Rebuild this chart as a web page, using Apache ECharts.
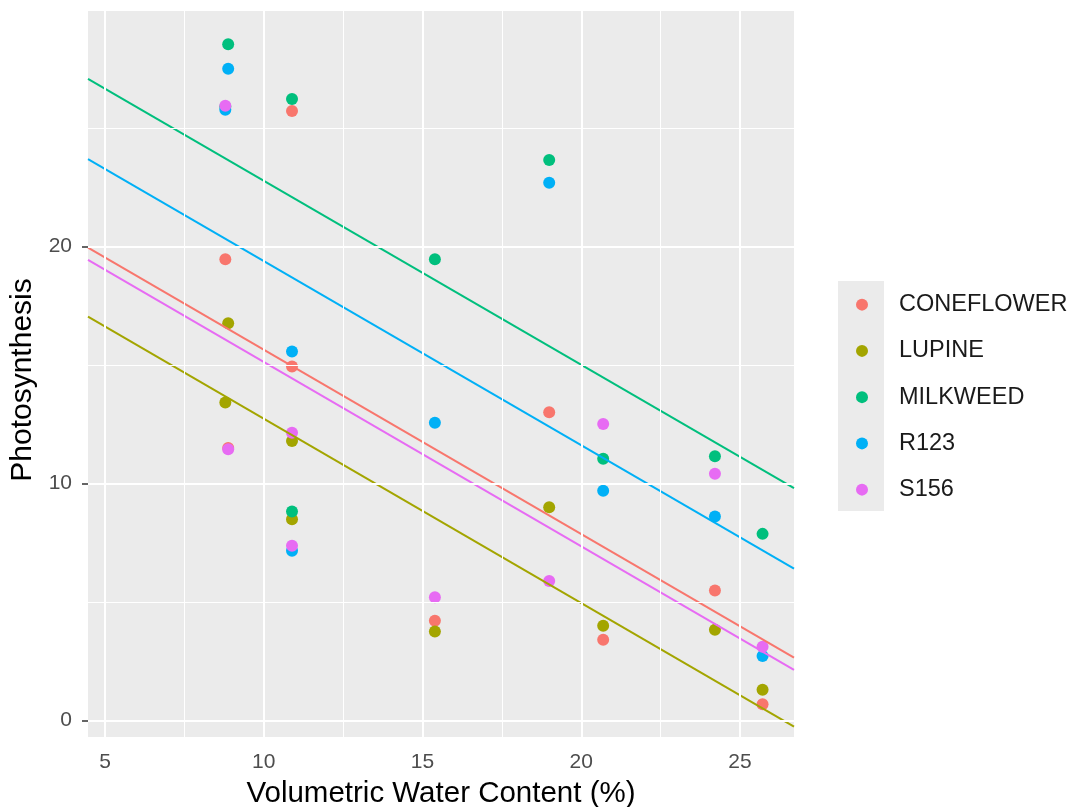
<!DOCTYPE html>
<html>
<head>
<meta charset="utf-8">
<script src="https://cdn.jsdelivr.net/npm/echarts@6/dist/echarts.min.js"></script>
<style>
  html, body { margin: 0; padding: 0; background: #ffffff; }
  #chart { width: 1070px; height: 807px; }
</style>
</head>
<body>
<div id="chart"></div>
<script>
// ---------- data ----------
const species = ['CONEFLOWER', 'LUPINE', 'MILKWEED', 'R123', 'S156'];
const colors = ['#F8766D', '#A3A500', '#00BF7D', '#00B0F6', '#E76BF3'];

// water content (%) of each sampling site
const waterContent = [8.79, 8.88, 10.89, 10.89, 15.39, 18.99, 20.69, 24.21, 25.71];

// photosynthesis per species, in site order
const coneflower = [19.47, 11.50, 25.72, 14.94, 4.21, 13.01, 3.41, 5.49, 0.69];
const lupine     = [13.42, 16.77, 11.80, 8.50, 3.76, 9.00, 4.00, 3.83, 1.30];
const milkweed   = [25.90, 28.54, 26.23, 8.82, 19.47, 23.65, 11.05, 11.15, 7.88];
const r123       = [25.77, 27.50, 15.57, 7.17, 12.57, 22.69, 9.70, 8.61, 2.73];
const s156       = [25.94, 11.45, 12.15, 7.38, 5.21, 5.89, 12.52, 10.42, 3.12];
const photosynthesis = [coneflower, lupine, milkweed, r123, s156];

// fitted (parallel) lines: value at left and right edge of the panel
const xRange = [4.465, 26.70];
const lineStart = [19.96, 17.05, 27.08, 23.69, 19.44];
const lineEnd   = [2.66, -0.25, 9.81, 6.41, 2.14];

const yRange = [-0.69, 29.94];
const xTicks = [5, 10, 15, 20, 25];
const xMinor = [7.5, 12.5, 17.5, 22.5];
const yTicks = [0, 10, 20];
const yMinor = [5, 15, 25];

// ---------- chart ----------
const FONT = '"Liberation Sans", Arial, Helvetica, sans-serif';
const chart = echarts.init(document.getElementById('chart'), null, { renderer: 'canvas' });

const gridLines = [];
xMinor.forEach(v => gridLines.push({ xAxis: v, lineStyle: { color: '#ffffff', width: 1, type: 'solid' } }));
yMinor.forEach(v => gridLines.push({ yAxis: v, lineStyle: { color: '#ffffff', width: 1, type: 'solid' } }));
xTicks.forEach(v => gridLines.push({ xAxis: v, lineStyle: { color: '#ffffff', width: 2, type: 'solid' } }));
yTicks.forEach(v => gridLines.push({ yAxis: v, lineStyle: { color: '#ffffff', width: 2, type: 'solid' } }));

const series = [{
  name: '_grid',
  type: 'scatter',
  data: [],
  z: 1,
  silent: true,
  markLine: {
    silent: true,
    animation: false,
    symbol: ['none', 'none'],
    label: { show: false },
    emphasis: { disabled: true },
    data: gridLines
  }
}];

species.forEach((name, i) => {
  series.push({
    name: name,
    type: 'scatter',
    symbol: 'circle',
    symbolSize: 12,
    z: 3,
    itemStyle: { color: colors[i], opacity: 1 },
    data: waterContent.map((x, k) => [x, photosynthesis[i][k]])
  });
});
species.forEach((name, i) => {
  series.push({
    name: name,
    type: 'line',
    showSymbol: false,
    symbol: 'none',
    z: 4,
    clip: true,
    lineStyle: { color: colors[i], width: 2 },
    itemStyle: { color: colors[i] },
    data: [[xRange[0], lineStart[i]], [xRange[1], lineEnd[i]]]
  });
});

const option = {
  animation: false,
  backgroundColor: '#ffffff',
  textStyle: { fontFamily: FONT },
  grid: {
    left: 88, top: 11, width: 706, height: 726,
    show: true, backgroundColor: '#EBEBEB', borderWidth: 0,
    containLabel: false,
    outerBoundsMode: 'none'
  },
  xAxis: {
    type: 'value',
    min: xRange[0], max: xRange[1],
    name: 'Volumetric Water Content (%)',
    nameLocation: 'middle',
    nameGap: 42,
    nameTextStyle: { color: '#000000', fontSize: 29.5, fontFamily: FONT },
    axisLine: { show: false },
    axisTick: { show: true, length: 6, customValues: xTicks, lineStyle: { color: '#333333', width: 1.5 } },
    axisLabel: { show: true, customValues: xTicks, margin: 15, color: '#4D4D4D', fontSize: 21, fontFamily: FONT },
    splitLine: { show: false },
    minorSplitLine: { show: false }
  },
  yAxis: {
    type: 'value',
    min: yRange[0], max: yRange[1],
    name: 'Photosynthesis',
    nameLocation: 'middle',
    nameGap: 49,
    nameTextStyle: { color: '#000000', fontSize: 30, fontFamily: FONT, padding: [0, 12, 0, 0] },
    axisLine: { show: false },
    axisTick: { show: true, length: 6, customValues: yTicks, lineStyle: { color: '#333333', width: 1.5 } },
    axisLabel: { show: true, customValues: yTicks, margin: 16, color: '#4D4D4D', fontSize: 21, fontFamily: FONT },
    splitLine: { show: false }
  },
  legend: {
    orient: 'vertical',
    left: 856,
    top: 281.5,
    padding: 0,
    itemGap: 0,
    itemWidth: 12,
    itemHeight: 12,
    selectedMode: false,
    data: species.map((n, i) => ({ name: n, icon: 'circle', itemStyle: { color: colors[i] } })),
    textStyle: { color: '#1A1A1A', fontSize: 23.5, fontFamily: FONT, lineHeight: 46.25, padding: [0, 0, 0, 26] }
  },
  graphic: [{
    type: 'rect',
    left: 838, top: 281,
    z: 0,
    silent: true,
    shape: { width: 46, height: 230 },
    style: { fill: '#EBEBEB' }
  }],
  series: series
};
chart.setOption(option);
</script>
</body>
</html>
